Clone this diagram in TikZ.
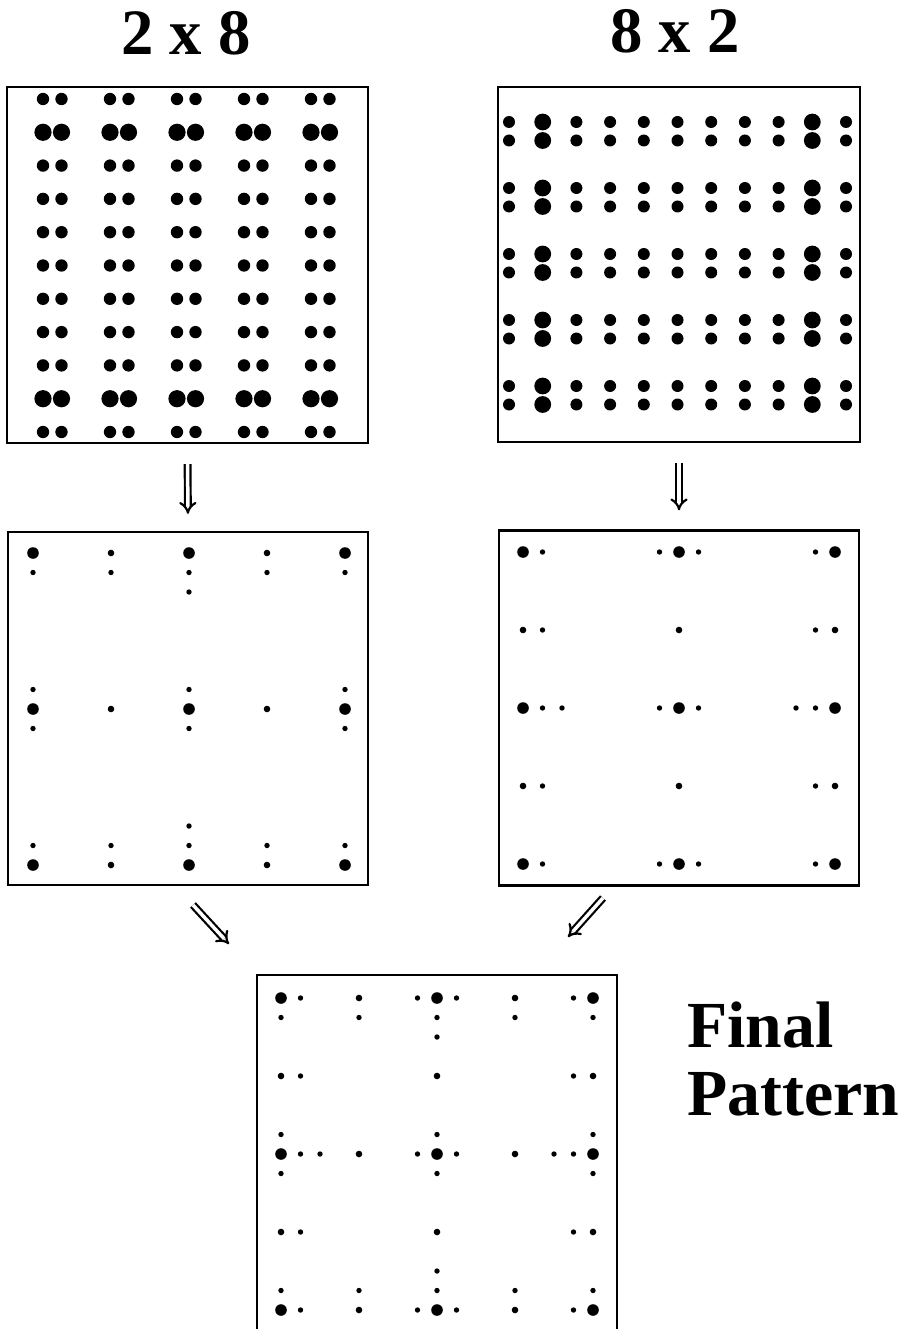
\documentclass[tikz,border=0pt]{standalone}
\usepackage{fontspec}
\setmainfont{Liberation Serif}
\usetikzlibrary{arrows.meta, positioning}

\tikzset{
    panel/.style={draw, line width=2.3bp, minimum width=360bp,
        minimum height=355bp, inner sep=0pt},
    title/.style={font=\bfseries\fontsize{65}{70}\selectfont,
        inner sep=0pt, anchor=base},
    dbl/.style={double, double distance=3.5bp, line width=2.2bp, -{Implies}},
}

% lattice of the 2 x 8 result, in grid units (x/y)
\def\bigpts{0/0,8/0,16/0,0/8,8/8,16/8,0/16,8/16,16/16}
\def\medpts{4/0,12/0,4/8,12/8,4/16,12/16}
\def\smallpts{0/1,4/1,8/1,12/1,16/1,8/2,0/7,0/9,8/7,8/9,16/7,16/9,%
    0/15,4/15,8/15,12/15,16/15,8/14}

\begin{document}
\begin{tikzpicture}[x=1bp, y=-1bp]

    \useasboundingbox (0,0) rectangle (904,1329);

    % ============================================================
    % TITLES
    % ============================================================
    \node[title] (ttlA) at (186,55) {2 x 8};
    \node[title] (ttlB) at (675,53) {8 x 2};

    % ============================================================
    % PANELS
    % ============================================================
    \node[panel, minimum width=361bp, minimum height=356bp] (twoeight) at (187.5,265) {};
    \node[panel, minimum width=362bp] (eighttwo) at (679,264.5) {};
    \node[panel, minimum height=353bp] (resA) at (188,708.5) {};
    \node[panel] (resB) at (679,708) {};
    \node[panel, minimum height=360bp] (final) at (437,1155) {};

    % ============================================================
    % 2 x 8 INPUT
    % ============================================================
    \foreach \i in {0,...,4}
        \foreach \j in {0,...,10} {
            \pgfmathsetmacro\rr{(\j==1 || \j==9) ? 8.6 : 6.2}
            \fill (43+67*\i, 99+33.3*\j) circle (\rr bp);
            \fill (61.5+67*\i, 99+33.3*\j) circle (\rr bp);
        }

    % ============================================================
    % 8 x 2 INPUT
    % ============================================================
    \foreach \k in {0,...,10}
        \foreach \m in {0,...,4} {
            \pgfmathsetmacro\rr{(\k==1 || \k==9) ? 8.4 : 6}
            \fill (509+33.7*\k, 122+66*\m) circle (\rr bp);
            \fill (509+33.7*\k, 140.5+66*\m) circle (\rr bp);
        }

    % ============================================================
    % RESULT OF 2 x 8
    % ============================================================
    \begin{scope}[shift={(33,553)}, x=19.5bp, y=-19.5bp]
        \foreach \a/\b in \bigpts   {\fill (\a,\b) circle (5.8bp);}
        \foreach \a/\b in \medpts   {\fill (\a,\b) circle (3.3bp);}
        \foreach \a/\b in \smallpts {\fill (\a,\b) circle (2.7bp);}
    \end{scope}

    % ============================================================
    % RESULT OF 8 x 2 (transposed)
    % ============================================================
    \begin{scope}[shift={(523,552)}, x=19.5bp, y=-19.5bp]
        \foreach \a/\b in \bigpts   {\fill (\b,\a) circle (5.8bp);}
        \foreach \a/\b in \medpts   {\fill (\b,\a) circle (3.3bp);}
        \foreach \a/\b in \smallpts {\fill (\b,\a) circle (2.7bp);}
    \end{scope}

    % ============================================================
    % FINAL PATTERN (both together)
    % ============================================================
    \begin{scope}[shift={(281,998)}, x=19.5bp, y=-19.5bp]
        \foreach \a/\b in \bigpts   {\fill (\a,\b) circle (5.8bp);}
        \foreach \a/\b in \medpts   {\fill (\a,\b) circle (3.3bp);
                                     \fill (\b,\a) circle (3.3bp);}
        \foreach \a/\b in \smallpts {\fill (\a,\b) circle (2.7bp);
                                     \fill (\b,\a) circle (2.7bp);}
    \end{scope}

    \node[title, anchor=base west, font=\bfseries\fontsize{66}{68}\selectfont]
        (finA) at (687,1047) {Final};
    \node[title, anchor=base west, font=\bfseries\fontsize{66}{68}\selectfont]
        (finB) at (687,1115) {Pattern};

    % ============================================================
    % ARROWS
    % ============================================================
    \draw[dbl, shorten <=20bp, shorten >=17bp] (twoeight.south) -- (resA.north);
    \draw[dbl, shorten <=20bp, shorten >=19bp] (eighttwo.south) -- (resB.north);

    \coordinate (dAs) at (193,905);
    \coordinate (dAe) at (229,944);
    \coordinate (dBs) at (603,898);
    \coordinate (dBe) at (568,937);
    \draw[dbl] (dAs) -- (dAe);
    \draw[dbl] (dBs) -- (dBe);

\end{tikzpicture}
\end{document}
